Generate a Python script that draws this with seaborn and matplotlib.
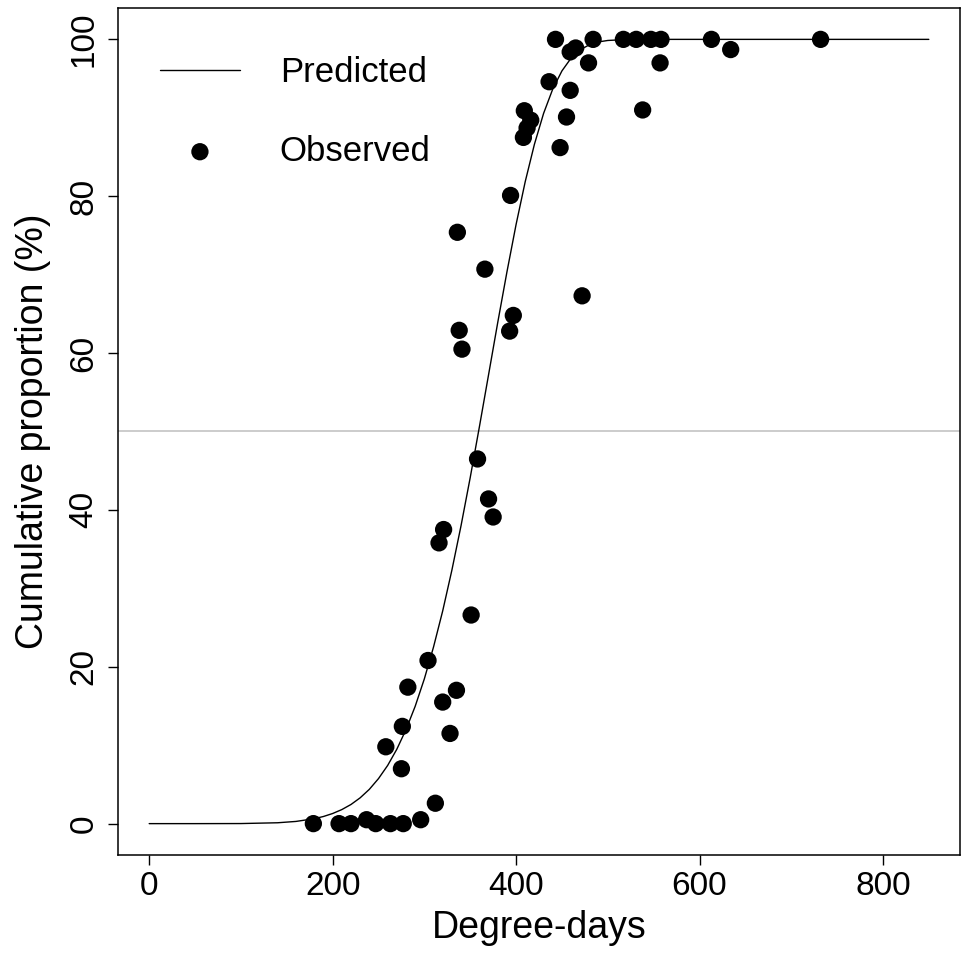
import numpy as np
import pandas as pd
import matplotlib
matplotlib.use("Agg")
import matplotlib.pyplot as plt
import seaborn as sns

# ---- data ----
pred_x = [0, 50, 100, 140, 160, 180, 190, 200, 210, 220, 230, 240, 250, 260, 270,
          280, 290, 300, 310, 320, 330, 340, 350, 360, 370, 380, 390, 400, 410,
          420, 430, 440, 450, 460, 470, 480, 490, 500, 520, 540, 600, 700, 850]
pred_y = [0.0, 0.0, 0.01, 0.11, 0.28, 0.63, 0.91, 1.29, 1.79, 2.44, 3.29, 4.37,
          5.74, 7.42, 9.49, 11.99, 14.96, 18.46, 22.52, 27.12, 32.31, 37.99,
          44.12, 50.59, 57.23, 63.89, 70.32, 76.39, 81.87, 86.62, 90.56, 93.67,
          95.98, 97.61, 98.67, 99.32, 99.68, 99.86, 99.98, 100.0, 100.0, 100.0, 100.0]

obs_x = [179, 207, 220, 237, 247, 263, 277, 296, 312,
         304, 282, 335, 320, 276, 328, 258, 275,
         351, 316, 321, 375, 370, 358, 341, 338, 393, 397, 472, 366, 336, 394,
         448, 408, 412, 416, 455, 409, 538, 459, 436, 479, 557, 459, 465, 634,
         443, 484, 517, 531, 547, 558, 613, 732]
obs_y = [0, 0, 0, 0.5, 0, 0, 0, 0.5, 2.6,
         20.8, 17.4, 17.0, 15.5, 12.4, 11.5, 9.8, 7.0,
         26.6, 35.8, 37.5, 39.1, 41.4, 46.5, 60.5, 62.9, 62.8, 64.8, 67.3, 70.7, 75.4, 80.1,
         86.2, 87.5, 88.7, 89.7, 90.1, 90.9, 91.0, 93.5, 94.6, 97.0, 97.0, 98.4, 98.9, 98.7,
         100, 100, 100, 100, 100, 100, 100, 100]

x_ticks = [0, 200, 400, 600, 800]
y_ticks = [0, 20, 40, 60, 80, 100]

pred = pd.DataFrame({"x": pred_x, "y": pred_y})
obs = pd.DataFrame({"x": obs_x, "y": obs_y})

sns.set_theme(style="ticks")
plt.rcParams["font.family"] = ["Liberation Sans", "DejaVu Sans"]
plt.rcParams["axes.linewidth"] = 1.1
plt.rcParams["text.color"] = "black"

W, H = 961, 955
fig = plt.figure(figsize=(W / 100, H / 100), dpi=100)
L, R, T, B = 118, 960, 8, 855
ax = fig.add_axes([L / W, (H - B) / H, (R - L) / W, (B - T) / H])

ax.axhline(50, color="#c8c8c8", lw=1.3, zorder=0)
sns.lineplot(data=pred, x="x", y="y", ax=ax, color="black", lw=1.0,
             label="Predicted", zorder=2)
sns.scatterplot(data=obs, x="x", y="y", ax=ax, color="black", s=155,
                edgecolor="none", label="Observed", zorder=3)

ax.set_xlim(-34, 884)
ax.set_ylim(-4, 104)
ax.set_xticks(x_ticks)
ax.set_yticks(y_ticks)
ax.set_xticklabels([str(v) for v in x_ticks])
ax.set_yticklabels([str(v) for v in y_ticks], rotation=90, va="center")
ax.tick_params(axis="both", direction="out", length=7.5, width=1.0,
               colors="black", labelsize=24)
ax.tick_params(axis="x", pad=4)
ax.tick_params(axis="y", pad=6)
for s in ax.spines.values():
    s.set_visible(True)
    s.set_color("black")

ax.set_xlabel("Degree-days", fontsize=27, color="black")
ax.set_ylabel("Cumulative proportion (%)", fontsize=27, color="black")
ax.xaxis.set_label_coords(0.5, (B - 928) / (B - T))
ax.xaxis.label.set_va("center")
ax.yaxis.set_label_coords((33 - L) / (R - L), 0.5)
ax.yaxis.label.set_va("center")

leg = ax.legend(loc="upper left", bbox_to_anchor=((160 - L) / (R - L), 1 - (56 - T) / (B - T)),
                frameon=False, fontsize=25, handlelength=2.3, handletextpad=1.15,
                labelspacing=1.32, borderpad=0, borderaxespad=0, markerscale=1.0)
for t in leg.get_texts():
    t.set_color("black")

fig.savefig("out.png", dpi=100, facecolor="white")
